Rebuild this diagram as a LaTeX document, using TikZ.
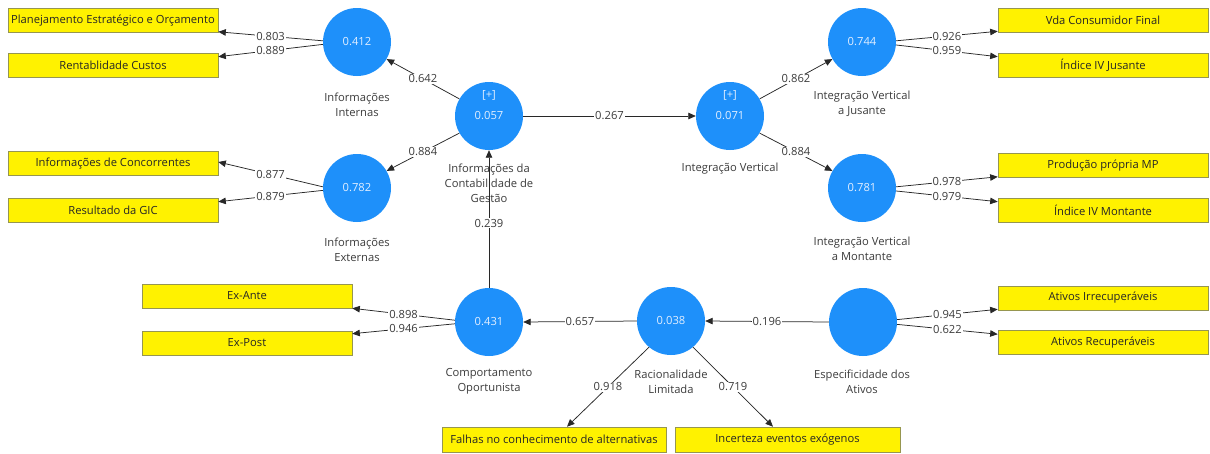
\documentclass[tikz,border=0pt]{standalone}
\usepackage{fontspec}
\setmainfont{Open Sans}
\usetikzlibrary{arrows.meta}
\definecolor{cblue}{RGB}{30,144,250}
\definecolor{ctext}{RGB}{225,238,255}
\definecolor{txt}{RGB}{60,60,60}
\definecolor{boxline}{RGB}{150,150,80}
\definecolor{linec}{RGB}{40,40,40}
\begin{document}
\begin{tikzpicture}[x=1pt,y=-1pt,
  lv/.style={circle,fill=cblue,minimum size=68pt,inner sep=0pt,text=ctext,font=\fontsize{11.2}{13}\selectfont},
  lvtop/.style={inner sep=0pt,text=ctext,font=\fontsize{11.2}{13}\selectfont},
  ind/.style={rectangle,fill=yellow,draw=boxline,line width=0.6pt,minimum width=210pt,minimum height=24pt,inner sep=0pt,font=\fontsize{11.2}{13}\selectfont,text=black!85},
  lvcaption/.style={align=center,inner sep=0pt,font=\fontsize{11.2}{15}\selectfont,text=txt},
  lbl/.style={fill=white,inner sep=1pt,font=\fontsize{11.2}{13}\selectfont,text=txt},
  con/.style={draw=linec,line width=0.75pt,-{Triangle[length=7.5pt,width=6.5pt]}}
]
\path[fill=white] (0,0) rectangle (1210,453);
\useasboundingbox (0,0) rectangle (1210,453);

% latent variables
\node[lv] (II) at (357,42) {0.412};
\node[lv] (IE) at (357,188) {0.782};
\node[lv] (ICG) at (489,116) {0.057};
\node[lvtop] (ICGp) at (489,95) {[+]};
\node[lv] (IV) at (730,116) {0.071};
\node[lvtop] (IVp) at (730,95) {[+]};
\node[lv] (IVJ) at (862,42) {0.744};
\node[lv] (IVM) at (862,188) {0.781};
\node[lv] (CO) at (489,322) {0.431};
\node[lv] (RL) at (671,321) {0.038};
\node[lv] (ED) at (863,322) {};

% captions
\node[lvcaption] (cII) at (357,105) {Informações\\Internas};
\node[lvcaption] (cIE) at (357,250) {Informações\\Externas};
\node[lvcaption] (cICG) at (489,183) {Informações da\\Contabilidade de\\Gestão};
\node[lvcaption] (cIV) at (730,169) {Integração Vertical};
\node[lvcaption] (cIVJ) at (862,104) {Integração Vertical\\a Jusante};
\node[lvcaption] (cIVM) at (862,249) {Integração Vertical\\a Montante};
\node[lvcaption] (cCO) at (489,381) {Comportamento\\Oportunista};
\node[lvcaption] (cRL) at (671,382) {Racionalidade\\Limitada};
\node[lvcaption] (cED) at (862,382) {Especificidade dos\\Ativos};

% indicators
\node[ind] (PEO) at (113,20.5) {Planejamento Estratégico e Orçamento};
\node[ind] (RC) at (113,65) {Rentablidade Custos};
\node[ind] (IC) at (113,163.5) {Informações de Concorrentes};
\node[ind] (RG) at (113,210) {Resultado da GIC};
\node[ind] (Vda) at (1103,20) {Vda Consumidor Final};
\node[ind] (IJ) at (1103,65) {Índice IV Jusante};
\node[ind] (PPM) at (1103,165.5) {Produção própria MP};
\node[ind] (IM) at (1103,210) {Índice IV Montante};
\node[ind] (ExA) at (247,296) {Ex-Ante};
\node[ind] (ExP) at (247,343) {Ex-Post};
\node[ind,minimum width=224pt,minimum height=25pt] (Fal) at (554,439.5) {Falhas no conhecimento de alternativas};
\node[ind,minimum width=225pt,minimum height=25pt] (Inc) at (787.5,439.5) {Incerteza eventos exógenos};
\node[ind] (AI) at (1103,298) {Ativos Irrecuperáveis};
\node[ind] (AR) at (1103,342.5) {Ativos Recuperáveis};

% structural paths
\draw[con] (ICG.150) -- node[lbl] {0.642} (II.330);
\draw[con] (ICG.210) -- node[lbl] {0.884} (IE.30);
\draw[con] (ICG.east) -- node[lbl] {0.267} (IV.west);
\draw[con] (IV.30) -- node[lbl] {0.862} (IVJ.210);
\draw[con] (IV.330) -- node[lbl] {0.884} (IVM.150);
\draw[con] (CO.north) -- node[lbl,pos=0.47] {0.239} (ICG.south);
\draw[con] (RL.west) -- node[lbl] {0.657} (CO.east);
\draw[con] (ED.west) -- node[lbl] {0.196} (RL.east);

% measurement paths
\draw[con] (II.178) -- node[lbl] {0.803} ([yshift=1pt]PEO.south east);
\draw[con] (II.184) -- node[lbl] {0.889} ([yshift=-4pt]RC.north east);
\draw[con] (IE.178) -- node[lbl] {0.877} ([yshift=1.5pt]IC.east);
\draw[con] (IE.184) -- node[lbl] {0.879} ([yshift=-4pt]RG.north east);
\draw[con] (IVJ.2) -- node[lbl] {0.926} ([yshift=1pt]Vda.south west);
\draw[con] (IVJ.355) -- node[lbl] {0.959} ([yshift=-4pt]IJ.north west);
\draw[con] (IVM.2) -- node[lbl] {0.978} ([yshift=1pt]PPM.south west);
\draw[con] (IVM.355) -- node[lbl] {0.979} ([yshift=-4pt]IM.north west);
\draw[con] (CO.177) -- node[lbl] {0.898} ([yshift=0pt]ExA.south east);
\draw[con] (CO.183) -- node[lbl] {0.946} ([yshift=-3pt]ExP.north east);
\draw[con] (ED.4) -- node[lbl] {0.945} ([yshift=1pt]AI.south west);
\draw[con] (ED.356) -- node[lbl] {0.622} ([yshift=-4pt]AR.north west);
\draw[con] (RL.230) -- node[lbl] {0.918} ([xshift=13pt]Fal.north);
\draw[con] (RL.310) -- node[lbl] {0.719} ([xshift=-14.5pt]Inc.north);
\end{tikzpicture}
\end{document}
